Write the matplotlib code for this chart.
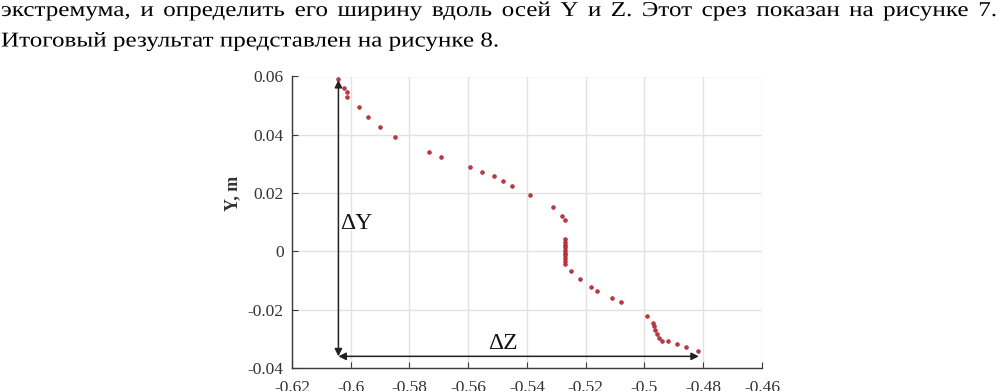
import matplotlib
matplotlib.use('Agg')
import matplotlib.pyplot as plt
from matplotlib import patheffects
from matplotlib.transforms import Affine2D

# данные (Z, Y), м
z = [-0.6044, -0.6024, -0.6013, -0.6012, -0.5972, -0.5942, -0.5902, -0.5851,
     -0.5734, -0.5692, -0.5593, -0.5552, -0.5512, -0.5482, -0.5452, -0.5391,
     -0.5311, -0.5281, -0.5271,
     -0.5271, -0.5271, -0.5271, -0.5271, -0.5271, -0.5271, -0.5271, -0.5271,
     -0.5271, -0.5271,
     -0.5251, -0.5220, -0.5181, -0.5160, -0.5110, -0.5081, -0.4992, -0.4972,
     -0.4969, -0.4963, -0.4959, -0.4950, -0.4940, -0.4921, -0.4891, -0.4860,
     -0.4819]
y = [0.0592, 0.0562, 0.0546, 0.0530, 0.0496, 0.0462, 0.0428, 0.0393,
     0.0341, 0.0325, 0.0289, 0.0272, 0.0257, 0.0241, 0.0226, 0.0195,
     0.0151, 0.0123, 0.0109,
     0.0042, 0.0033, 0.0023, 0.0014, 0.0005, -0.0005, -0.0014, -0.0023,
     -0.0033, -0.0042,
     -0.0068, -0.0096, -0.0122, -0.0135, -0.0160, -0.0172, -0.0221, -0.0246,
     -0.0256, -0.0270, -0.0284, -0.0296, -0.0308, -0.0308, -0.0318, -0.0328,
     -0.0340]

xticks = [-0.62, -0.6, -0.58, -0.56, -0.54, -0.52, -0.5, -0.48, -0.46]
xticklabels = ['-0.62', '-0.6', '-0.58', '-0.56', '-0.54', '-0.52', '-0.5', '-0.48', '-0.46']
yticks = [-0.04, -0.02, 0, 0.02, 0.04, 0.06]
yticklabels = ['-0.04', '-0.02', '0', '0.02', '0.04', '0.06']

# ширины
dy_z, dy_top, dy_bot = -0.6042, 0.0588, -0.0360
dz_left, dz_right = -0.6042, -0.4815

line1 = 'экстремума, и определить его ширину вдоль осей Y и Z. Этот срез показан на рисунке 7.'
line2 = 'Итоговый результат представлен на рисунке 8.'


class Squeeze(patheffects.AbstractPathEffect):
    # сжатие текста по горизонтали (узкий шрифт скана)
    def __init__(self, sx):
        super().__init__()
        self.sx = sx

    def draw_path(self, renderer, gc, tpath, affine, rgbFace=None):
        renderer.draw_path(gc, tpath, Affine2D().scale(self.sx, 1) + affine, rgbFace)


plt.rcParams['font.family'] = ['Liberation Serif', 'DejaVu Serif']

W, H = 1002, 391
fig = plt.figure(figsize=(W / 100, H / 100), dpi=100)
ax = fig.add_axes([292 / W, (H - 368) / H, 470 / W, 291.5 / H])

ax.plot(z, y, linestyle='none', marker='o', markersize=2.7,
        markerfacecolor='#d0323c', markeredgecolor='#8a2030', markeredgewidth=0.4,
        zorder=3)

ax.set_xlim(-0.62, -0.46)
ax.set_ylim(-0.04, 0.06)
ax.set_xticks(xticks)
ax.set_xticklabels(xticklabels)
ax.set_yticks(yticks)
ax.set_yticklabels(yticklabels)
ax.grid(True, color='#e2e2e2', linewidth=1.0)
ax.set_axisbelow(True)
for s in ['top', 'right']:
    ax.spines[s].set_visible(False)
for s in ['left', 'bottom']:
    ax.spines[s].set_color('#3a3a3a')
    ax.spines[s].set_linewidth(1.0)
ax.tick_params(direction='in', length=4, width=0.8, colors='#3a3a3a',
               labelsize=12.5, labelcolor='#333333')
ax.tick_params(axis='x', pad=9)
ax.tick_params(axis='y', pad=6)

ax.text(-0.126, 0.60, 'Y, m', transform=ax.transAxes, rotation=90,
        ha='center', va='center', fontsize=13, fontweight='bold', color='#333333')

# стрелки
arrow = dict(arrowstyle='<|-|>', color='#222222', lw=1.1,
             mutation_scale=11, shrinkA=0, shrinkB=0)
ax.annotate('', xy=(dy_z, dy_top), xytext=(dy_z, dy_bot), arrowprops=arrow)
ax.annotate('', xy=(dz_right, dy_bot), xytext=(dz_left, dy_bot), arrowprops=arrow)
ax.text(-0.6035, 0.0076, 'ΔY', fontsize=17, ha='left', va='baseline', color='#111111')
ax.text(-0.5533, -0.0334, 'ΔZ', fontsize=17, ha='left', va='baseline', color='#111111')

# текст над рисунком
fs = 15.2
r = fig.canvas.get_renderer()
t2 = fig.text(1 / W, (H - 46.5) / H, line2, fontsize=fs, va='baseline', ha='left')
w2 = t2.get_window_extent(r).width
sx = 499 / w2
t2.set_path_effects([Squeeze(sx)])

words = line1.split(' ')
wt = []
for wd in words:
    t = fig.text(0, (H - 16) / H, wd, fontsize=fs, va='baseline', ha='left',
                 path_effects=[Squeeze(sx)])
    wt.append(t)
widths = [t.get_window_extent(r).width * sx for t in wt]
x0, x1 = 1, 997
gap = (x1 - x0 - sum(widths)) / (len(words) - 1)
xp = x0
for t, w in zip(wt, widths):
    t.set_x(xp / W)
    xp += w + gap

fig.savefig('out.png', dpi=100)
